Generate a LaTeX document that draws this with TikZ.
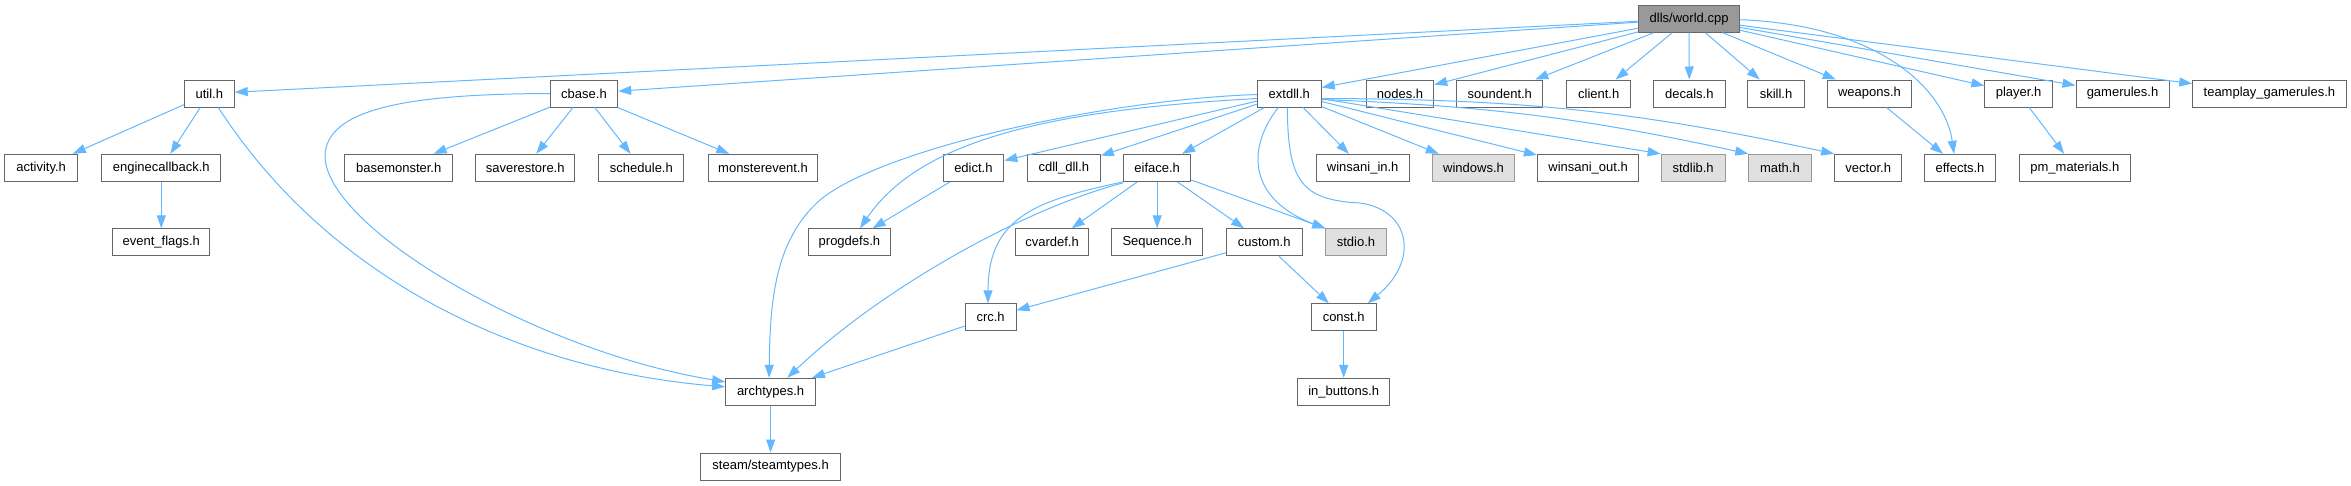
\documentclass[tikz,border=0pt]{standalone}
\usepackage{fontspec}
\setmainfont{Liberation Sans}
\usetikzlibrary{arrows.meta,calc}
\definecolor{edgeblue}{HTML}{63B8FF}
\definecolor{boxline}{HTML}{666666}
\definecolor{greyline}{HTML}{999999}
\definecolor{greyfill}{HTML}{E0E0E0}
\definecolor{rootfill}{HTML}{999999}
\tikzset{
  file/.style={draw=boxline, fill=white, line width=1pt, minimum height=27pt,
    inner sep=0pt, font=\fontsize{13}{15}\selectfont, text=black},
  sysfile/.style={file, draw=greyline, fill=greyfill},
  rootfile/.style={file, fill=rootfill},
  dep/.style={draw=edgeblue, line width=1pt, -{Triangle[length=13pt,width=9pt]}}
}
\begin{document}
\begin{tikzpicture}[x=1pt,y=-1pt]
\useasboundingbox (0,0) rectangle (2351,485);
% row 1
\node[rootfile, minimum width=100.6pt] (world) at (1689.1,18.7) {dlls/world.cpp};
% row 2
\node[file, minimum width=49.8pt] (util) at (209.3,93.5) {util.h};
\node[file, minimum width=67.4pt] (cbase) at (584,93.5) {cbase.h};
\node[file, minimum width=63.9pt] (extdll) at (1289.3,93.5) {extdll.h};
\node[file, minimum width=67.4pt] (nodes) at (1400,93.5) {nodes.h};
\node[file, minimum width=85.7pt] (soundent) at (1499.8,93.5) {soundent.h};
\node[file, minimum width=63.9pt] (client) at (1598.7,93.5) {client.h};
\node[file, minimum width=71.5pt] (decals) at (1689.3,93.5) {decals.h};
\node[file, minimum width=56.3pt] (skill) at (1776,93.5) {skill.h};
\node[file, minimum width=84pt] (weapons) at (1869.5,93.5) {weapons.h};
\node[file, minimum width=67.5pt] (player) at (2018.6,93.5) {player.h};
\node[file, minimum width=93pt] (gamerules) at (2122.5,93.5) {gamerules.h};
\node[file, minimum width=153.4pt] (teamplay) at (2269.4,93.5) {teamplay\_gamerules.h};
% row 3
\node[file, minimum width=73.1pt] (activity) at (41.1,167.8) {activity.h};
\node[file, minimum width=119pt] (enginecb) at (161.3,167.8) {enginecallback.h};
\node[file, minimum width=107.9pt] (basemonster) at (398.7,167.8) {basemonster.h};
\node[file, minimum width=99.1pt] (saverestore) at (525.2,167.8) {saverestore.h};
\node[file, minimum width=84.9pt] (schedule) at (641.4,167.8) {schedule.h};
\node[file, minimum width=109.9pt] (monsterevent) at (763,167.8) {monsterevent.h};
\node[file, minimum width=60.8pt] (edict) at (973.4,167.8) {edict.h};
\node[file, minimum width=72.8pt] (cdlldll) at (1063.9,167.8) {cdll\_dll.h};
\node[file, minimum width=67pt] (eiface) at (1157.2,167.8) {eiface.h};
\node[file, minimum width=93pt] (winsaniin) at (1362.7,167.8) {winsani\_in.h};
\node[sysfile, minimum width=81.9pt] (windows) at (1473.5,167.8) {windows.h};
\node[file, minimum width=101.4pt] (winsaniout) at (1588.1,167.8) {winsani\_out.h};
\node[sysfile, minimum width=63.9pt] (stdlib) at (1693.1,167.8) {stdlib.h};
\node[sysfile, minimum width=62.2pt] (math) at (1779.9,167.8) {math.h};
\node[file, minimum width=67.1pt] (vector) at (1868.2,167.8) {vector.h};
\node[file, minimum width=71.1pt] (effects) at (1960,167.8) {effects.h};
\node[file, minimum width=110.9pt] (pmmat) at (2074.8,167.8) {pm\_materials.h};
% row 4
\node[file, minimum width=96.8pt] (eventflags) at (161.3,242.3) {event\_flags.h};
\node[file, minimum width=82.3pt] (progdefs) at (849.4,242.3) {progdefs.h};
\node[file, minimum width=73.5pt] (cvardef) at (1052,242.3) {cvardef.h};
\node[file, minimum width=90.7pt] (sequence) at (1157.2,242.3) {Sequence.h};
\node[file, minimum width=75.7pt] (custom) at (1264.2,242.3) {custom.h};
\node[sysfile, minimum width=60.4pt] (stdio) at (1356,242.3) {stdio.h};
% row 5
\node[file, minimum width=50.8pt] (crc) at (990.6,317.3) {crc.h};
\node[file, minimum width=65.1pt] (const) at (1343.7,317.3) {const.h};
% row 6
\node[file, minimum width=90pt] (archtypes) at (770.6,391.8) {archtypes.h};
\node[file, minimum width=92.5pt] (inbuttons) at (1343.7,391.8) {in\_buttons.h};
% row 7
\node[file, minimum width=140.4pt] (steam) at (770.6,466.5) {steam/steamtypes.h};

% edges from world.cpp
\draw[dep] (world) -- (util);
\draw[dep] (world) -- (cbase);
\draw[dep] (world) -- (extdll);
\draw[dep] (world) -- (nodes);
\draw[dep] (world) -- (soundent);
\draw[dep] (world) -- (client);
\draw[dep] (world) -- (decals);
\draw[dep] (world) -- (skill);
\draw[dep] (world) -- (weapons);
\draw[dep] (world) -- (player);
\draw[dep] (world) -- (gamerules);
\draw[dep] (world) -- (teamplay);
\draw[dep] ($(world.east)+(0,1)$) .. controls (1880,25) and (1945,90) .. ($(effects.north)+(-6,0)$);
% util.h
\draw[dep] (util) -- (activity);
\draw[dep] (util) -- (enginecb);
\draw[dep] ($(util.south)+(9,0)$) .. controls (330,280) and (520,370) .. ($(archtypes.west)+(0,-5)$);
% cbase.h
\draw[dep] (cbase.west) .. controls (410,94) and (325,108) .. (325,157)
  .. controls (328,230) and (540,352) .. ($(archtypes.west)+(0,-10)$);
\draw[dep] (cbase) -- (basemonster);
\draw[dep] (cbase) -- (saverestore);
\draw[dep] (cbase) -- (schedule);
\draw[dep] (cbase) -- (monsterevent);
% extdll.h
\draw[dep] ($(extdll.west)+(0,1)$) .. controls (1100,100) and (880,150) .. (820,200)
  .. controls (775,240) and (770,300) .. ($(archtypes.north)+(-1.5,0)$);
\draw[dep] ($(extdll.west)+(0,5)$) .. controls (1050,110) and (920,140) .. ($(progdefs.north)+(10.6,0)$);
\draw[dep] (extdll) -- (edict);
\draw[dep] (extdll) -- (cdlldll);
\draw[dep] (extdll) -- (eiface);
\draw[dep] ($(extdll.south)+(-11,0)$) .. controls (1245,150) and (1250,200) .. (stdio.north west);
\draw[dep] ($(extdll.south)+(-2,0)$) .. controls (1288,180) and (1300,200) .. (1360,203)
  .. controls (1410,210) and (1420,260) .. ($(const.north east)+(-9,0)$);
\draw[dep] (extdll) -- (winsaniin);
\draw[dep] (extdll) -- (windows);
\draw[dep] (extdll) -- (winsaniout);
\draw[dep] (extdll) -- (stdlib.north west);
\draw[dep] ($(extdll.east)+(0,6)$) to[bend left=5] (math.north west);
\draw[dep] ($(extdll.east)+(0,5)$) to[bend left=6] (vector.north west);
% eiface.h
\draw[dep] ($(eiface.south west)+(0,1)$) .. controls (1020,210) and (880,290) .. ($(archtypes.north)+(16.7,0)$);
\draw[dep] (eiface.south west) .. controls (1040,200) and (988,215) .. ($(crc.north)+(-2.6,0)$);
\draw[dep] (eiface) -- (cvardef);
\draw[dep] (eiface) -- (sequence);
\draw[dep] (eiface) -- (custom);
\draw[dep] (eiface) -- (stdio.north west);
% others
\draw[dep] (edict) -- (progdefs);
\draw[dep] (custom) -- (crc);
\draw[dep] (custom) -- (const);
\draw[dep] (crc) -- (archtypes);
\draw[dep] (const) -- (inbuttons);
\draw[dep] (archtypes) -- (steam);
\draw[dep] (enginecb) -- (eventflags);
\draw[dep] (weapons) -- (effects);
\draw[dep] (player) -- (pmmat);
\end{tikzpicture}
\end{document}
